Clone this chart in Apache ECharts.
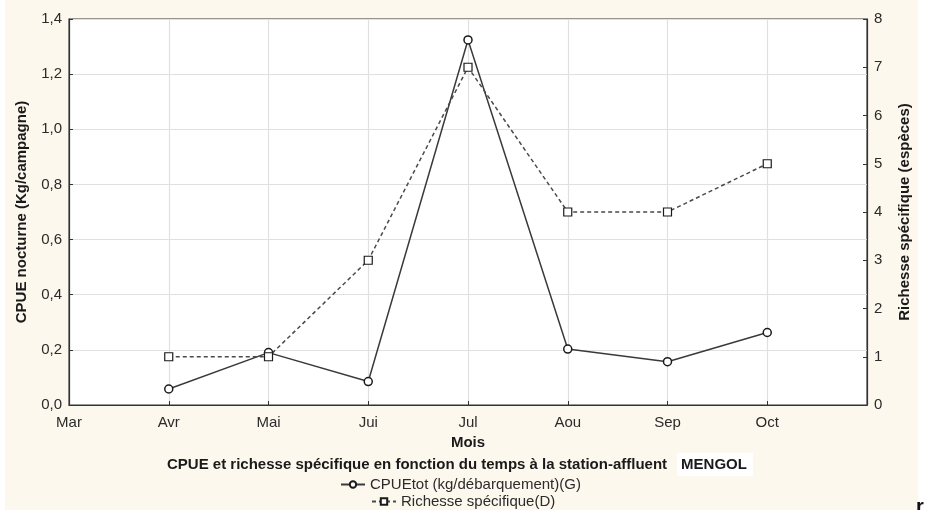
<!DOCTYPE html>
<html>
<head>
<meta charset="utf-8">
<script src="https://cdn.jsdelivr.net/npm/echarts@6/dist/echarts.min.js"></script>
<style>
html,body{margin:0;padding:0;background:#ffffff;}
#c{width:926px;height:510px;}
</style>
</head>
<body>
<div id="c"></div>
<script>
var months = ['Mar','Avr','Mai','Jui','Jul','Aou','Sep','Oct',''];
var cpue = [null, 0.058, 0.19, 0.085, 1.324, 0.203, 0.157, 0.263, null];
var richesse = [null, 1, 1, 3, 7, 4, 4, 5, null];
var leftTicks = ['0,0','0,2','0,4','0,6','0,8','1,0','1,2','1,4'];
var rightTicks = ['0','1','2','3','4','5','6','7','8'];
var nameCpue = 'CPUEtot (kg/débarquement)(G)';
var nameRich = 'Richesse spécifique(D)';

var FONT = '"Liberation Sans", Arial, sans-serif';
var FS = 15;
var chart = echarts.init(document.getElementById('c'), null, {renderer:'canvas'});
var txt = '#2b2b2b';
chart.setOption({
  animation:false,
  backgroundColor:'#fdf8ee',
  textStyle:{fontFamily:FONT},
  graphic:[
    {type:'rect', left:0, top:0, shape:{width:5,height:510}, style:{fill:'#ffffff'}, z:-1},
    {type:'rect', left:918, top:0, shape:{width:8,height:510}, style:{fill:'#ffffff'}, z:-1},
    {type:'text', left:916, top:497, style:{text:'r', font:'bold 20px '+FONT, fill:'#111'}}
  ],
  title:{
    text:'{a|CPUE et richesse spécifique en fonction du temps à la station-affluent}  {b|MENGOL}',
    left:167, top:453, padding:0,
    textStyle:{
      rich:{
        a:{fontFamily:FONT, fontSize:FS, fontWeight:'bold', color:'#1a1a1a'},
        b:{fontFamily:FONT, fontSize:FS, fontWeight:'bold', color:'#1a1a1a', backgroundColor:'#ffffff', padding:[4,6,4,4]}
      }
    }
  },
  legend:[
    {data:[nameCpue], left:340, top:477, itemWidth:24, itemHeight:8, itemGap:4, padding:0,
     textStyle:{fontFamily:FONT, fontSize:FS, color:txt}},
    {data:[nameRich], left:371, top:494, itemWidth:24, itemHeight:8, itemGap:4, padding:0,
     textStyle:{fontFamily:FONT, fontSize:FS, color:txt}}
  ],
  grid:{left:69, right:59, top:19, bottom:105, show:true, borderColor:'#333', borderWidth:1.2, backgroundColor:'#ffffff'},
  xAxis:{
    type:'category', data:months, boundaryGap:false,
    name:'Mois', nameLocation:'middle', nameGap:28,
    nameTextStyle:{fontFamily:FONT, fontSize:FS, fontWeight:'bold', color:'#1a1a1a'},
    axisLine:{lineStyle:{color:'#333', width:1.2}},
    axisTick:{show:true, inside:true, length:4, lineStyle:{color:'#333'}},
    axisLabel:{fontFamily:FONT, fontSize:FS, color:txt, margin:10},
    splitLine:{show:true, lineStyle:{color:'#e0e0e0', width:1.2}}
  },
  yAxis:[
    {type:'value', min:0, max:1.4, interval:0.2, position:'left',
     name:'CPUE nocturne (Kg/campagne)', nameLocation:'middle', nameGap:40,
     nameTextStyle:{fontFamily:FONT, fontSize:FS, fontWeight:'bold', color:'#1a1a1a'},
     axisLine:{show:true, lineStyle:{color:'#333', width:1.2}},
     axisTick:{show:true, inside:true, length:4, lineStyle:{color:'#333'}},
     axisLabel:{fontFamily:FONT, fontSize:FS, color:txt, margin:7,
       formatter:function(v){ return leftTicks[Math.round(v/0.2)]; }},
     splitLine:{show:true, lineStyle:{color:'#e0e0e0', width:1.2}}
    },
    {type:'value', min:0, max:8, interval:1, position:'right',
     name:'Richesse spécifique (espèces)', nameLocation:'middle', nameGap:30,
     nameTextStyle:{fontFamily:FONT, fontSize:FS, fontWeight:'bold', color:'#1a1a1a'},
     axisLine:{show:true, lineStyle:{color:'#333', width:1.2}},
     axisTick:{show:true, inside:true, length:4, lineStyle:{color:'#333'}},
     axisLabel:{fontFamily:FONT, fontSize:FS, color:txt, margin:7,
       formatter:function(v){ return rightTicks[Math.round(v)]; }},
     splitLine:{show:false}
    }
  ],
  series:[
    {name:nameCpue, type:'line', yAxisIndex:0, data:cpue,
     symbol:'circle', symbolSize:8, connectNulls:false,
     lineStyle:{color:'#3a3a3a', width:1.5, type:'solid'},
     itemStyle:{color:'#ffffff', borderColor:'#1a1a1a', borderWidth:1.5}},
    {name:nameRich, type:'line', yAxisIndex:1, data:richesse,
     symbol:'rect', symbolSize:8,
     lineStyle:{color:'#4a4a4a', width:1.5, type:[4,3]},
     itemStyle:{color:'#ffffff', borderColor:'#1a1a1a', borderWidth:1.2}}
  ]
});
</script>
</body>
</html>
